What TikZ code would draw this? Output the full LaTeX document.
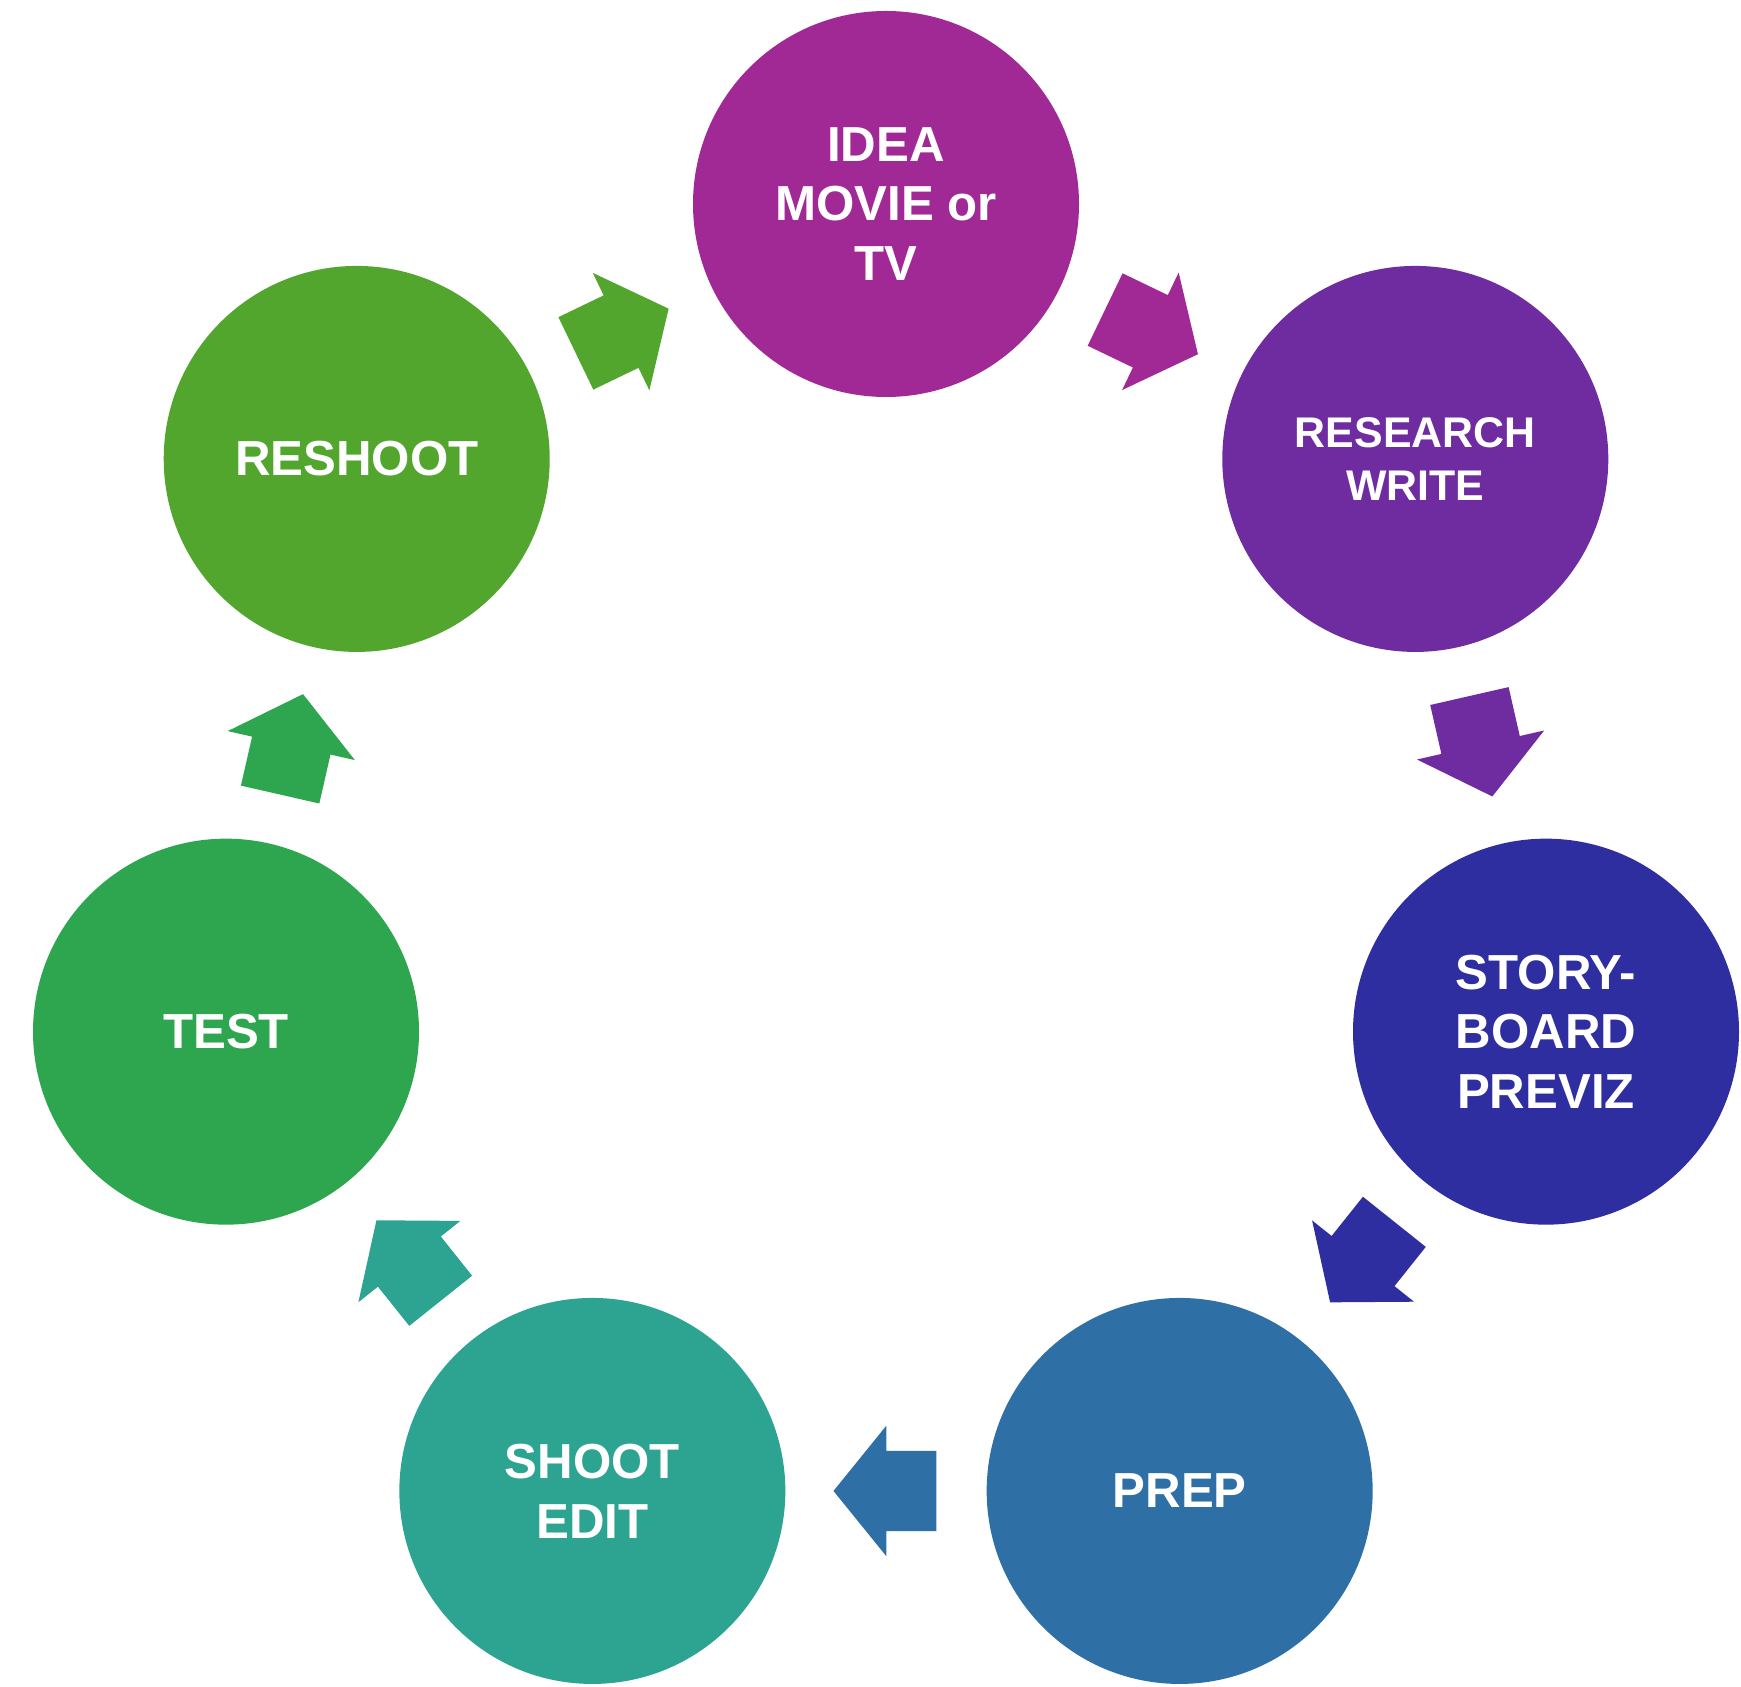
\documentclass[tikz,border=0pt]{standalone}
\usepackage{fontspec}
\setmainfont{Liberation Sans}
\usetikzlibrary{shapes.arrows}
\definecolor{cidea}{RGB}{160,41,150}
\definecolor{cresearch}{RGB}{111,43,160}
\definecolor{cstory}{RGB}{46,46,160}
\definecolor{cprep}{RGB}{46,111,165}
\definecolor{cshoot}{RGB}{45,163,146}
\definecolor{ctest}{RGB}{46,166,80}
\definecolor{creshoot}{RGB}{82,166,46}
\tikzstyle{stage}=[circle, inner sep=0pt, minimum size=3.86cm, text=white, align=center, font=\bfseries\fontsize{14}{17}\selectfont]
\tikzstyle{smallstage}=[stage, font=\bfseries\fontsize{12.2}{15.1}\selectfont]
\tikzstyle{flowarrow}=[single arrow, inner xsep=0pt, inner ysep=0.395cm, minimum height=1.03cm, single arrow head extend=0.25cm, single arrow tip angle=102, sloped, allow upside down, anchor=tail, pos=0.244]

\begin{document}
\begin{tikzpicture}
        \fill[white] (0,0) rectangle (17.41,-16.87);
        \useasboundingbox (0,0) rectangle (17.41,-16.87);
        \coordinate (hub) at (8.86,-8.81);
        \node[stage, fill=cidea]           (idea) at ([shift={(90:6.77)}]hub) {IDEA\\MOVIE or\\TV};
        \node[smallstage, fill=cresearch]  (research) at ([shift={(38.57:6.77)}]hub) {RESEARCH\\WRITE};
        \node[stage, fill=cstory]          (story) at ([shift={(-12.86:6.77)}]hub) {STORY-\\BOARD\\PREVIZ};
        \node[stage, fill=cprep]           (prep) at ([shift={(-64.29:6.77)}]hub) {PREP};
        \node[stage, fill=cshoot]          (shoot) at ([shift={(-115.71:6.77)}]hub) {SHOOT\\EDIT};
        \node[stage, fill=ctest]           (test) at ([shift={(-167.14:6.77)}]hub) {TEST};
        \node[stage, fill=creshoot]        (reshoot) at ([shift={(141.43:6.77)}]hub) {RESHOOT};
        \path (idea) -- node[flowarrow, fill=cidea] (f1) {} (research);
        \path (research) -- node[flowarrow, fill=cresearch] (f2) {} (story);
        \path (story) -- node[flowarrow, fill=cstory] (f3) {} (prep);
        \path (prep) -- node[flowarrow, fill=cprep] (f4) {} (shoot);
        \path (shoot) -- node[flowarrow, fill=cshoot] (f5) {} (test);
        \path (test) -- node[flowarrow, fill=ctest] (f6) {} (reshoot);
        \path (reshoot) -- node[flowarrow, fill=creshoot] (f7) {} (idea);
    \end{tikzpicture}
\end{document}
